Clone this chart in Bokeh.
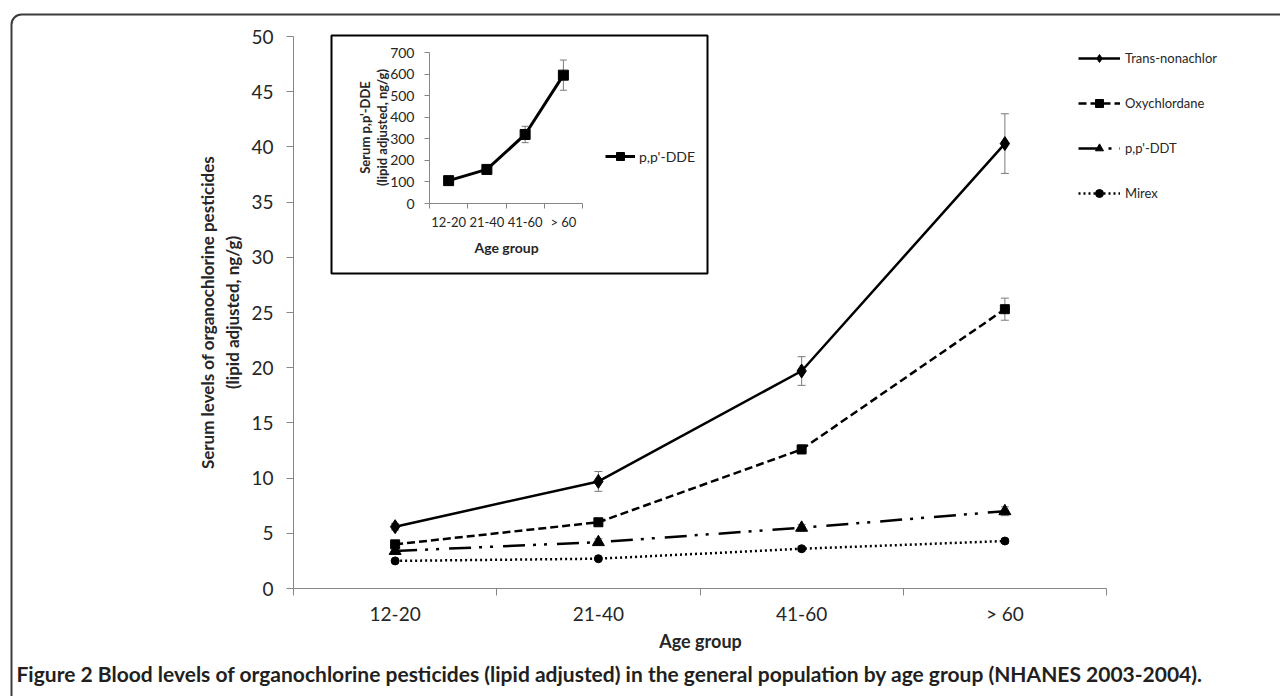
import numpy as np
from bokeh.plotting import figure
from bokeh.models import (Range1d, FixedTicker, ColumnDataSource, Whisker, TeeHead,
                          Legend, LegendItem, Label, BoxAnnotation, AllLabels, LinearAxis)
from bokeh.embed import file_html
from bokeh.resources import INLINE

# ---------------- data ----------------
age_groups = ["12-20", "21-40", "41-60", "> 60"]
trans_nonachlor = [5.6, 9.7, 19.7, 40.3]
trans_nonachlor_err = [0.3, 0.9, 1.3, 2.7]
oxychlordane = [4.0, 6.0, 12.6, 25.3]
oxychlordane_err = [0.2, 0.3, 0.4, 1.0]
ppddt = [3.4, 4.2, 5.5, 7.0]
ppddt_err = [0.2, 0.3, 0.3, 0.4]
mirex = [2.5, 2.7, 3.6, 4.3]
mirex_err = [0.1, 0.1, 0.2, 0.2]
ppdde = [106, 158, 320, 595]
ppdde_err = [8, 10, 38, 70]
main_yticks = list(range(0, 55, 5))
inset_yticks = list(range(0, 800, 100))

FONT = "Lato"
AXIS_GRAY = "#868686"
TXT = "#262626"
W, H = 1280, 696

xc = [i + 0.5 for i in range(len(age_groups))]
bounds = [float(i) for i in range(len(age_groups) + 1)]
overrides = {x: lab for x, lab in zip(xc, age_groups)}


def make_map(p0, p1, v0, v1):
    """pixel position -> data value for a linear axis anchored at two pixels."""
    k = (v1 - v0) / (p1 - p0)
    return lambda px: v0 + (px - p0) * k


# main plot area: x 0..4 at px 293..1106, y 0..50 at px 588..36
mx = make_map(293, 1106, 0, len(age_groups))
my = make_map(588, 36, 0, 50)
# inset plot area: x 0..4 at px 429..582, y 0..700 at px 203..52
ix = make_map(429, 582, 0, len(age_groups))
iy = make_map(203, 52, 0, 700)

p = figure(width=W, height=H, output_backend="svg", toolbar_location=None,
           x_range=Range1d(mx(0), mx(W)), y_range=Range1d(my(H), my(0)),
           min_border=0)
p.extra_x_ranges = {"ix": Range1d(ix(0), ix(W))}
p.extra_y_ranges = {"iy": Range1d(iy(H), iy(0))}
p.xgrid.visible = False
p.ygrid.visible = False
p.outline_line_color = None
p.background_fill_color = "white"
p.border_fill_color = "white"


def style_axis(ax, font_size, standoff, tick_len, is_x):
    ax.axis_line_color = AXIS_GRAY
    ax.axis_line_width = 1
    ax.major_tick_line_color = AXIS_GRAY
    ax.minor_tick_line_color = AXIS_GRAY
    ax.major_label_text_font = FONT
    ax.major_label_text_font_size = font_size
    ax.major_label_text_color = TXT
    ax.major_label_policy = AllLabels()
    ax.major_label_standoff = standoff
    ax.fixed_location = 0
    if is_x:
        ax.ticker = FixedTicker(ticks=xc, minor_ticks=bounds)
        ax.major_tick_out = 0
        ax.major_tick_in = 0
        ax.minor_tick_out = tick_len
        ax.minor_tick_in = 0
        ax.major_label_overrides = overrides
        ax.bounds = (0, len(age_groups))
    else:
        ax.major_tick_out = tick_len
        ax.major_tick_in = 0
        ax.minor_tick_out = 0
        ax.minor_tick_in = 0


# main axes
style_axis(p.xaxis[0], "19px", 6, 7, True)
style_axis(p.yaxis[0], "19px", 13, 7, False)
p.yaxis[0].ticker = FixedTicker(ticks=main_yticks)
p.yaxis[0].bounds = (0, 50)

# ---------------- inset background box ----------------
p.add_layout(BoxAnnotation(left=mx(331), right=mx(707), top=my(35), bottom=my(273),
                           fill_color="white", fill_alpha=1, line_color="black",
                           line_alpha=1, line_width=2, level="underlay"))

# ---------------- main series ----------------
series = [
    ("Trans-nonachlor", trans_nonachlor, trans_nonachlor_err, "solid", "diamond", 14),
    ("Oxychlordane", oxychlordane, oxychlordane_err, "8 4", "square", 9),
    ("p,p'-DDT", ppddt, ppddt_err, "22 8 3 8 3 10", "triangle", 12),
    ("Mirex", mirex, mirex_err, "2 3", "circle", 8),
]

items = []
for name, vals, errs, dash, marker, size in series:
    src = ColumnDataSource(dict(x=xc, y=vals,
                                lo=[v - e for v, e in zip(vals, errs)],
                                hi=[v + e for v, e in zip(vals, errs)]))
    p.add_layout(Whisker(source=src, base="x", upper="hi", lower="lo",
                         line_color="#7a7a7a", line_width=1,
                         upper_head=TeeHead(size=8, line_color="#7a7a7a", line_width=1),
                         lower_head=TeeHead(size=8, line_color="#7a7a7a", line_width=1)))
    r = p.line("x", "y", source=src, line_color="black", line_width=2.5, line_dash=dash)
    s = p.scatter("x", "y", source=src, marker=marker, size=size,
                  fill_color="black", line_color="black")
    items.append(LegendItem(label=name, renderers=[r, s]))

# legend: top-left at px (1078, 48); location = bottom-left from frame bottom
legend = Legend(items=items, location=(1078, H - 203), orientation="vertical",
                glyph_width=42, glyph_height=20, label_height=20, spacing=25,
                padding=0, margin=0, label_standoff=5, border_line_color=None,
                background_fill_alpha=0, label_text_font=FONT,
                label_text_font_size="13px", label_text_color=TXT)
p.add_layout(legend)

# ---------------- inset ----------------
iya = LinearAxis(x_range_name="ix", y_range_name="iy")
ixa = LinearAxis(x_range_name="ix", y_range_name="iy")
p.add_layout(iya, "left")
p.add_layout(ixa, "below")
style_axis(ixa, "13px", 5, 5, True)
style_axis(iya, "14px", 10, 5, False)
iya.ticker = FixedTicker(ticks=inset_yticks)
iya.bounds = (0, 700)

dsrc = ColumnDataSource(dict(x=xc, y=ppdde,
                             lo=[v - e for v, e in zip(ppdde, ppdde_err)],
                             hi=[v + e for v, e in zip(ppdde, ppdde_err)]))
p.add_layout(Whisker(source=dsrc, base="x", upper="hi", lower="lo",
                     x_range_name="ix", y_range_name="iy",
                     line_color="#7a7a7a", line_width=1,
                     upper_head=TeeHead(size=7, line_color="#7a7a7a", line_width=1),
                     lower_head=TeeHead(size=7, line_color="#7a7a7a", line_width=1)))
dr = p.line("x", "y", source=dsrc, x_range_name="ix", y_range_name="iy",
            line_color="black", line_width=3)
ds = p.scatter("x", "y", source=dsrc, x_range_name="ix", y_range_name="iy",
               marker="square", size=10, fill_color="black", line_color="black")
ileg = Legend(items=[LegendItem(label="p,p'-DDE", renderers=[dr, ds])],
              location=(605, H - 166), glyph_width=30, glyph_height=20, label_height=20,
              padding=0, margin=0, label_standoff=4, border_line_color=None,
              background_fill_alpha=0, label_text_font=FONT,
              label_text_font_size="14px", label_text_color=TXT)
p.add_layout(ileg)


def add_text(x, y, text, size, bold=True, angle=0.0, align="center", color=TXT):
    p.add_layout(Label(x=x, y=y, text=text, angle=angle, text_align=align,
                       text_baseline="middle", text_font=FONT,
                       text_font_style="bold" if bold else "normal",
                       text_font_size=size, text_color=color))


# inset titles
add_text(mx(364), my(127), "Serum p,p'-DDE", "13px", angle=np.pi / 2)
add_text(mx(381), my(127), "(lipid adjusted, ng/g)", "13px", angle=np.pi / 2)
add_text(mx(506), my(247), "Age group", "14px")

# main titles
add_text(mx(207), my(312), "Serum levels of organochlorine pesticides", "17px", angle=np.pi / 2)
add_text(mx(232), my(312), "(lipid adjusted, ng/g)", "17px", angle=np.pi / 2)
add_text(mx(700), my(640), "Age group", "18px")
add_text(mx(16), my(673),
         "Figure 2 Blood levels of organochlorine pesticides (lipid adjusted) in the general population by age group (NHANES 2003-2004).",
         "21px", align="left", color="#231f20")

# outer frame
p.add_layout(BoxAnnotation(left=mx(11), right=mx(W + 40), top=my(14), bottom=my(H + 40),
                           fill_alpha=0, line_color="#3c3c3c", line_alpha=1,
                           line_width=2, border_radius=10))

open("out.html", "w").write(file_html(p, INLINE))
